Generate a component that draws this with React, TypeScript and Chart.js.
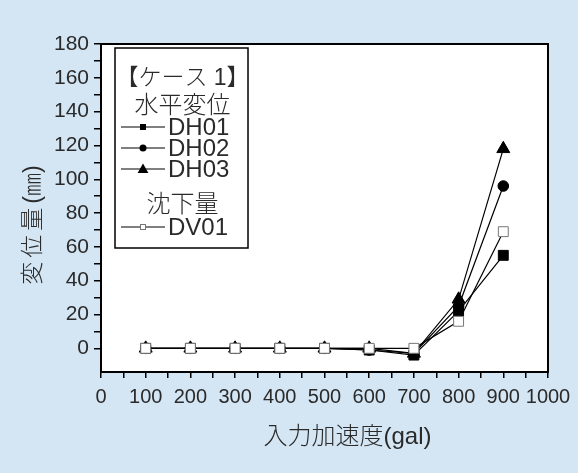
import React, { useEffect, useRef } from 'react';
import { Chart, registerables } from 'chart.js';

Chart.register(...registerables);

const accelerations = [100, 200, 300, 400, 500, 600, 700, 800, 900];
const dh01 = [0, 0, 0, 0, 0, -1, -4, 22, 55];
const dh02 = [0, 0, 0, 0, 0, -1, -3, 25, 96];
const dh03 = [0, 0, 0, 0, 0, 0, -3, 29, 118];
const dv01 = [0, 0, 0, 0, 0, 0, 0, 16, 69];

const seriesNames = ['DH01', 'DH02', 'DH03', 'DV01'];
const legendTitle = '【ケース 1】';
const legendGroup1 = '水平変位';
const legendGroup2 = '沈下量';
const xTitle = '入力加速度(gal)';
const yTitleMain = '変位量';
const yTitleUnit = '(㎜)';

const xMin = 0;
const xMax = 1000;
const yMin = -14;
const yMax = 180;

const BG = '#d4e5f3';
const FONT = '"Liberation Sans", "Noto Sans CJK JP", sans-serif';
const TICK_FONT = '"Liberation Sans", sans-serif';
const TEXT = '#2a2a2a';

function toPoints(vals: number[]) {
  return accelerations.map((x, i) => ({ x, y: vals[i] }));
}

function drawMarker(ctx: CanvasRenderingContext2D, kind: string, x: number, y: number, s: number) {
  ctx.save();
  ctx.beginPath();
  if (kind === 'rect') {
    ctx.fillStyle = '#000';
    ctx.fillRect(x - s / 2, y - s / 2, s, s);
  } else if (kind === 'circle') {
    ctx.fillStyle = '#000';
    ctx.arc(x, y, s / 2, 0, Math.PI * 2);
    ctx.fill();
  } else if (kind === 'triangle') {
    ctx.fillStyle = '#000';
    ctx.moveTo(x, y - s * 0.6);
    ctx.lineTo(x + s * 0.6, y + s * 0.45);
    ctx.lineTo(x - s * 0.6, y + s * 0.45);
    ctx.closePath();
    ctx.fill();
  } else {
    ctx.fillStyle = '#fff';
    ctx.strokeStyle = '#777';
    ctx.lineWidth = 1;
    ctx.fillRect(x - s / 2, y - s / 2, s, s);
    ctx.strokeRect(x - s / 2 + 0.5, y - s / 2 + 0.5, s - 1, s - 1);
  }
  ctx.restore();
}

const framePlugin = {
  id: 'frameAndLegend',
  beforeDraw(chart: any) {
    const { ctx, chartArea: a } = chart;
    ctx.save();
    ctx.fillStyle = BG;
    ctx.fillRect(0, 0, chart.width, chart.height);
    ctx.fillStyle = '#fff';
    ctx.fillRect(a.left, a.top, a.right - a.left, a.bottom - a.top);
    ctx.restore();
  },
  afterDraw(chart: any) {
    const { ctx, chartArea: a } = chart;
    ctx.save();
    // frame
    ctx.strokeStyle = '#000';
    ctx.lineWidth = 2;
    ctx.strokeRect(a.left, a.top, a.right - a.left, a.bottom - a.top);

    // legend box
    const L = a.left + 14;
    const T = a.top + 4;
    const W = 133;
    const H = 200;
    ctx.fillStyle = '#fff';
    ctx.fillRect(L, T, W, H);
    ctx.lineWidth = 1.5;
    ctx.strokeRect(L, T, W, H);

    ctx.fillStyle = TEXT;
    ctx.font = `300 23px ${FONT}`;
    ctx.textBaseline = 'middle';
    ctx.textAlign = 'center';
    const cx = L + W / 2 + 1;
    ctx.fillText(legendTitle, cx, T + 31);
    ctx.font = `300 24px ${FONT}`;
    ctx.fillText(legendGroup1, cx, T + 58);
    ctx.fillText(legendGroup2, cx, T + 157);

    const entryY = [T + 79, T + 100, T + 121, T + 179];
    const kinds = ['rect', 'circle', 'triangle', 'openRect'];
    const sizes = [6, 7, 9, 6];
    ctx.textAlign = 'left';
    for (let i = 0; i < 4; i++) {
      const y = entryY[i];
      ctx.strokeStyle = '#000';
      ctx.lineWidth = 1.2;
      ctx.beginPath();
      ctx.moveTo(L + 6, y);
      ctx.lineTo(L + 50, y);
      ctx.stroke();
      drawMarker(ctx, kinds[i], L + 28, y, sizes[i]);
      ctx.fillStyle = TEXT;
      ctx.font = `300 24px ${FONT}`;
      ctx.fillText(seriesNames[i], L + 53, y + 1);
    }

    // x axis title
    ctx.fillStyle = TEXT;
    ctx.font = `300 24px ${FONT}`;
    ctx.textAlign = 'center';
    ctx.textBaseline = 'middle';
    ctx.fillText(xTitle, (a.left + a.right) / 2 + 23, a.bottom + 65);

    // y axis title (rotated, lightly tracked CJK part)
    ctx.save();
    ctx.translate(a.left - 67, (a.top + a.bottom) / 2 + 17);
    ctx.rotate(-Math.PI / 2);
    ctx.font = `300 23px ${FONT}`;
    ctx.textAlign = 'left';
    const track = 4;
    const chars = Array.from(yTitleMain);
    const cw = chars.map((c) => ctx.measureText(c).width);
    const mainW = cw.reduce((s, w) => s + w, 0) + track * chars.length;
    const unitW = ctx.measureText(yTitleUnit).width;
    let px = -(mainW + unitW) / 2;
    chars.forEach((c, i) => {
      ctx.fillText(c, px, 0);
      px += cw[i] + track;
    });
    ctx.fillText(yTitleUnit, px, 0);
    ctx.restore();
    ctx.restore();
  },
};

export default function App() {
  const ref = useRef<HTMLCanvasElement | null>(null);

  useEffect(() => {
    if (!ref.current) return;
    const common = {
      borderColor: '#000',
      borderWidth: 1.2,
      pointBorderColor: '#000',
      pointBackgroundColor: '#000',
      pointBorderWidth: 1,
      showLine: true,
      tension: 0,
    };
    const chart = new Chart(ref.current, {
      type: 'line',
      data: {
        datasets: [
          {
            ...common,
            label: seriesNames[3],
            data: toPoints(dv01),
            pointStyle: 'rect',
            pointRadius: 7,
            pointBackgroundColor: '#fff',
            pointBorderColor: '#777',
            order: 0,
          },
          {
            ...common,
            label: seriesNames[0],
            data: toPoints(dh01),
            pointStyle: 'rect',
            pointRadius: 7,
            order: 1,
          },
          {
            ...common,
            label: seriesNames[1],
            data: toPoints(dh02),
            pointStyle: 'circle',
            pointRadius: 5.3,
            order: 2,
          },
          {
            ...common,
            label: seriesNames[2],
            data: toPoints(dh03),
            pointStyle: 'triangle',
            pointRadius: 7.5,
            order: 3,
          },
        ],
      },
      options: {
        responsive: false,
        animation: false,
        events: [],
        layout: { padding: { top: 44, right: 30, left: 0, bottom: 0 } },
        plugins: {
          legend: { display: false },
          tooltip: { enabled: false },
          title: { display: false },
        },
        scales: {
          x: {
            type: 'linear',
            min: xMin,
            max: xMax,
            afterFit(scale: any) {
              scale.height = 101;
            },
            afterBuildTicks(scale: any) {
              scale.ticks = scale.ticks.filter((t: any) => t.value % 50 === 0);
            },
            ticks: {
              stepSize: 50,
              autoSkip: false,
              maxRotation: 0,
              padding: 7,
              color: TEXT,
              font: { family: TICK_FONT, size: 20, weight: '300' },
              callback: (v: any) => (Number(v) % 100 === 0 ? String(v) : ''),
            },
            grid: {
              display: true,
              drawOnChartArea: false,
              drawTicks: true,
              tickLength: 6,
              color: '#000',
              lineWidth: 1.5,
            },
            border: { display: false },
          },
          y: {
            type: 'linear',
            min: yMin,
            max: yMax,
            afterFit(scale: any) {
              scale.width = 101;
            },
            afterBuildTicks(scale: any) {
              scale.ticks = scale.ticks.filter((t: any) => t.value % 10 === 0);
            },
            ticks: {
              stepSize: 10,
              autoSkip: false,
              padding: 5,
              color: TEXT,
              font: { family: TICK_FONT, size: 21, weight: '300' },
              callback: (v: any) => (Number(v) % 20 === 0 ? String(v) : ''),
            },
            grid: {
              display: true,
              drawOnChartArea: false,
              drawTicks: true,
              tickLength: 7,
              color: '#000',
              lineWidth: 1.5,
            },
            border: { display: false },
          },
        },
      },
      plugins: [framePlugin],
    } as any);
    return () => chart.destroy();
  }, []);

  return (
    <div style={{ position: 'fixed', left: 0, top: 0, width: 578, height: 473, background: BG }}>
      <canvas ref={ref} width={578} height={473} style={{ display: 'block' }} />
    </div>
  );
}
